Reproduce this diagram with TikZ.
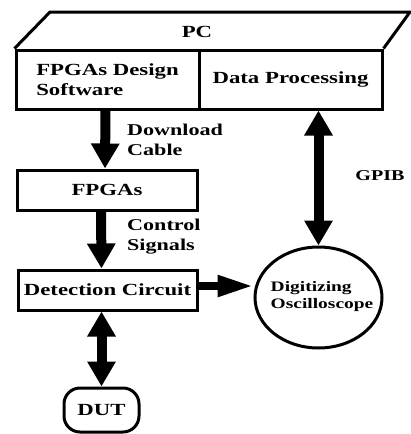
\documentclass[tikz,border=0pt]{standalone}
\usepackage{fontspec}
\setmainfont{Liberation Serif}
\usepackage{graphicx}
\usetikzlibrary{arrows.meta,shapes.geometric}
\newcommand{\wx}[1]{\scalebox{1.34}[1]{#1}}
\begin{document}
\begin{tikzpicture}[x=1pt,y=-1pt,
  box/.style={draw, line width=3pt, rectangle, inner sep=0pt},
  main/.style={font=\fontsize{17}{20}\selectfont\bfseries},
  lab/.style={font=\fontsize{16.5}{20}\selectfont\bfseries, align=left, inner sep=0pt},
  small/.style={font=\fontsize{14.5}{17}\selectfont\bfseries, align=left, inner sep=0pt},
  varrow/.style={line width=10pt, -{Triangle[length=25pt,width=27pt]}},
  vdouble/.style={line width=10pt, {Triangle[length=25pt,width=27pt]}-{Triangle[length=25pt,width=27pt]}},
  harrow/.style={line width=8pt, -{Triangle[length=36pt,width=20pt]}}]
\useasboundingbox (0,0) rectangle (410,434);
% PC box
\node[box, main, align=left, minimum width=183pt, minimum height=59pt] (pcL) at (107.5,79.5) {\wx{FPGAs Design}\\\wx{Software}};
\node[box, main, minimum width=183pt, minimum height=59pt] (pcR) at (290.5,79.5) {\wx{Data Processing}};
\coordinate (tl) at (50,12);
\coordinate (tr) at (410,12);
\draw[line width=3pt] (pcL.north west) -- (tl) -- (tr) -- (pcR.north east);
\node[main] (pc) at (197,32) {\wx{PC}};
% FPGAs and detection
\node[box, main, minimum width=180pt, minimum height=40pt] (fpga) at (107,190) {\wx{FPGAs}};
\node[box, main, minimum width=179pt, minimum height=40pt] (det) at (107.5,290) {\wx{Detection Circuit}};
% oscilloscope
\node[draw, ellipse, line width=3pt, minimum width=127pt, minimum height=101pt] (osc) at (318.5,297.5) {};
\node[small] (osctxt) at (322,297) {\wx{Digitizing}\\\wx{Oscilloscope}};
% DUT
\node[box, main, rounded corners=16pt, minimum width=75pt, minimum height=44pt] (dut) at (101.5,410) {\wx{DUT}};
% arrows
\draw[varrow] ([xshift=-2pt]pcL.south) -- ([xshift=-2pt]fpga.north);
\draw[varrow] ([xshift=-6pt]fpga.south) -- ([xshift=-6pt]det.north);
\draw[vdouble] (dut.north |- det.south) -- (dut.north);
\draw[harrow] ([yshift=4pt]det.east) -- ([yshift=4pt]det.east -| osc.west);
\draw[vdouble] (osc.north |- pcR.south) -- (osc.north);
% labels
\node[lab, anchor=west] (dl) at (127,140) {\wx{Download}\\\wx{Cable}};
\node[lab, anchor=west] (cs) at (127,237) {\wx{Control}\\\wx{Signals}};
\node[lab, font=\fontsize{15}{18}\selectfont\bfseries] (gpib) at (380,176) {\wx{GPIB}};
\end{tikzpicture}
\end{document}
